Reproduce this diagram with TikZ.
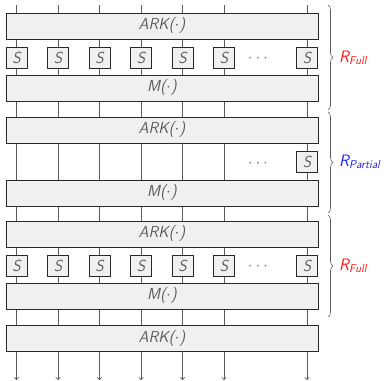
\documentclass[tikz,border=0pt]{standalone}
\usetikzlibrary{decorations.pathreplacing,arrows.meta}
\definecolor{wiregray}{RGB}{90,90,90}
\definecolor{boxborder}{RGB}{40,40,40}
\definecolor{boxfill}{RGB}{240,240,240}
\definecolor{txtgray}{RGB}{95,95,95}
\definecolor{rred}{RGB}{255,20,20}
\definecolor{rblue}{RGB}{30,30,255}
\begin{document}
\begin{tikzpicture}[x=1pt,y=-1pt,
  wire/.style={draw=wiregray, line width=0.6pt},
  layer/.style={draw=boxborder, fill=boxfill, line width=0.9pt, minimum width=312pt, minimum height=26pt, inner sep=0pt, text=txtgray, font=\sffamily\itshape\fontsize{16}{16}\selectfont},
  sbox/.style={draw=boxborder, fill=boxfill, line width=0.9pt, minimum width=21pt, minimum height=21pt, inner sep=0pt, text=txtgray, font=\sffamily\itshape\fontsize{16}{16}\selectfont},
  rbrace/.style={draw=wiregray, line width=0.6pt, decorate, decoration={brace, amplitude=5pt}},
  rlabel/.style={anchor=west, inner sep=0pt, font=\sffamily\itshape\fontsize{16.5}{16.5}\selectfont},
  dotsnode/.style={text=txtgray!80, inner sep=0pt, font=\fontsize{16}{16}\selectfont}
]
\useasboundingbox (0,0) rectangle (384,381);
% wires
\foreach \i/\x in {1/16.5,2/58,3/99.5,4/141,5/182.5,6/224,7/307}{
  \coordinate (t\i) at (\x,5);
  \coordinate (b\i) at (\x,380);
  \draw[wire,-{To[length=3pt,width=5pt]}] (t\i) -- (b\i);
}
% layers
\node[layer] (ark1) at (162,26) {ARK($\cdot$)};
\node[layer] (m1) at (162,88) {M($\cdot$)};
\node[layer] (ark2) at (162,130) {ARK($\cdot$)};
\node[layer] (m2) at (162,193) {M($\cdot$)};
\node[layer] (ark3) at (162,234) {ARK($\cdot$)};
\node[layer] (m3) at (162,296) {M($\cdot$)};
\node[layer] (ark4) at (162,338.5) {ARK($\cdot$)};
% S boxes
\foreach \i/\x in {1/16.5,2/58,3/99.5,4/141,5/182.5,6/224,7/307}{
  \node[sbox] (sa\i) at (\x,57.5) {S};
  \node[sbox] (sc\i) at (\x,265.5) {S};
}
\node[sbox] (sb7) at (307,162) {S};
\node[dotsnode] (d1) at (258,59) {$\cdots$};
\node[dotsnode] (d2) at (258,163.5) {$\cdots$};
\node[dotsnode] (d3) at (258,267) {$\cdots$};
% braces
\coordinate (br1a) at (328,5);  \coordinate (br1b) at (328,110);
\coordinate (br2a) at (328,112); \coordinate (br2b) at (328,213);
\coordinate (br3a) at (328,215); \coordinate (br3b) at (328,317);
\draw[rbrace] (br1a) -- (br1b);
\draw[rbrace] (br2a) -- (br2b);
\draw[rbrace] (br3a) -- (br3b);
\node[rlabel, text=rred] (l1) at (339,58) {R\textsubscript{Full}};
\node[rlabel, text=rblue] (l2) at (339,162) {R\textsubscript{Partial}};
\node[rlabel, text=rred] (l3) at (339,266) {R\textsubscript{Full}};
\end{tikzpicture}
\end{document}
